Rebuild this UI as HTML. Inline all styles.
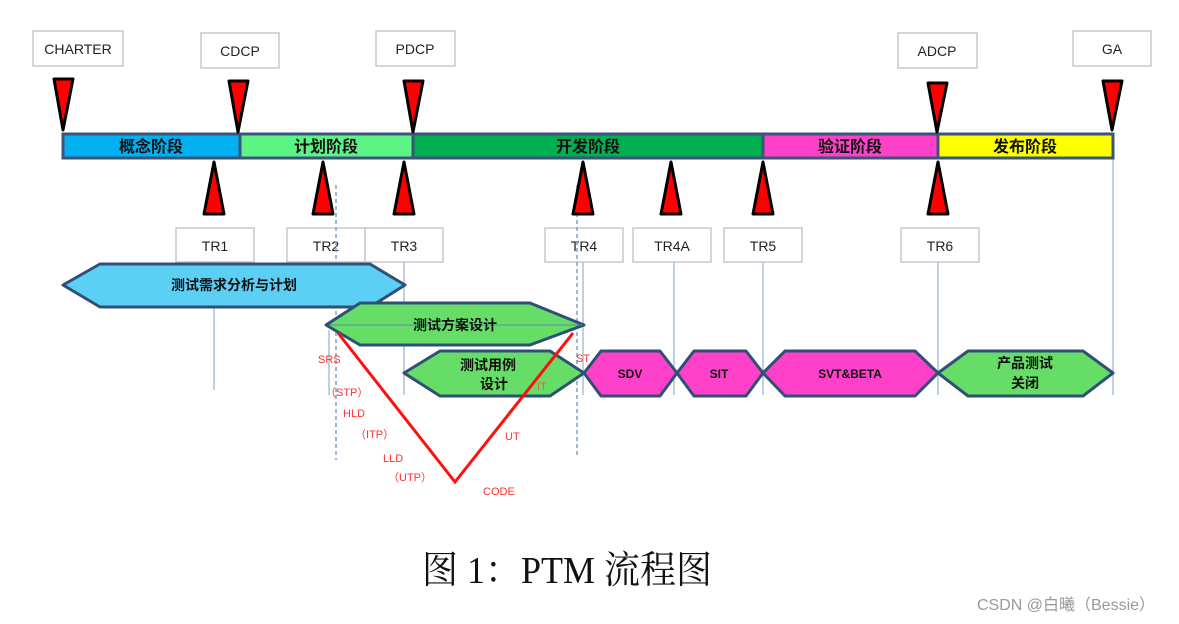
<!DOCTYPE html>
<html><head><meta charset="utf-8"><style>
html,body{margin:0;padding:0;background:#fff;width:1179px;height:624px;overflow:hidden}
text{font-family:"Liberation Sans","Noto Sans CJK SC",sans-serif}
</style></head><body>
<svg width="1179" height="624" xmlns="http://www.w3.org/2000/svg">
<g fill="#fff" stroke="#c8c8c8" stroke-width="1.5">
<rect x="33" y="31" width="90" height="35"/><rect x="201" y="33" width="78" height="35"/>
<rect x="376" y="31" width="79" height="35"/><rect x="898" y="33" width="79" height="35"/>
<rect x="1073" y="31" width="78" height="35"/>
<rect x="176" y="228" width="78" height="34"/><rect x="287" y="228" width="78" height="34"/>
<rect x="365" y="228" width="78" height="34"/><rect x="545" y="228" width="78" height="34"/>
<rect x="633" y="228" width="78" height="34"/><rect x="724" y="228" width="78" height="34"/>
<rect x="901" y="228" width="78" height="34"/>
</g>
<g font-size="14" fill="#222" text-anchor="middle">
<text x="78" y="54">CHARTER</text><text x="240" y="56">CDCP</text><text x="415" y="54">PDCP</text>
<text x="937" y="56">ADCP</text><text x="1112" y="54">GA</text>
<text x="215" y="251">TR1</text><text x="326" y="251">TR2</text><text x="404" y="251">TR3</text>
<text x="584" y="251">TR4</text><text x="672" y="251">TR4A</text><text x="763" y="251">TR5</text>
<text x="940" y="251">TR6</text>
</g>
<g stroke="#a8c0dc" stroke-width="1.5">
<line x1="214" y1="262" x2="214" y2="390"/><line x1="404" y1="262" x2="404" y2="395"/>
<line x1="583" y1="262" x2="583" y2="395"/><line x1="674" y1="262" x2="674" y2="395"/>
<line x1="763" y1="262" x2="763" y2="395"/><line x1="938" y1="262" x2="938" y2="395"/>
<line x1="1113" y1="158" x2="1113" y2="395"/>
<line x1="329" y1="330" x2="329" y2="395"/>
</g>
<g stroke="#7fa0c8" stroke-width="1.5" stroke-dasharray="4,3">
<line x1="336" y1="185" x2="336" y2="460"/><line x1="577" y1="185" x2="577" y2="455"/>
</g>
<g stroke="#3a557a" stroke-width="3">
<rect x="63" y="134" width="177" height="24" fill="#00b0f0"/>
<rect x="240" y="134" width="173" height="24" fill="#5cf585"/>
<rect x="413" y="134" width="350" height="24" fill="#00b050"/>
<rect x="763" y="134" width="175" height="24" fill="#ff40c8"/>
<rect x="938" y="134" width="175" height="24" fill="#ffff00"/>
</g>
<g font-size="16" font-weight="bold" fill="#111" text-anchor="middle">
<text x="151" y="152">概念阶段</text><text x="326" y="152">计划阶段</text>
<text x="588" y="152">开发阶段</text><text x="850" y="152">验证阶段</text><text x="1025" y="152">发布阶段</text>
</g>
<g fill="#ff0000" stroke="#000" stroke-width="3" stroke-linejoin="round">
<polygon points="54,79 73,79 63,130"/><polygon points="229,81 248,81 238,132"/>
<polygon points="404,81 423,81 413,132"/><polygon points="928,83 947,83 937,132"/>
<polygon points="1103,81 1122,81 1112,130"/>
<polygon points="214,162 204,214 224,214"/><polygon points="323,162 313,214 333,214"/>
<polygon points="404,162 394,214 414,214"/><polygon points="583,162 573,214 593,214"/>
<polygon points="671,162 661,214 681,214"/><polygon points="763,162 753,214 773,214"/>
<polygon points="938,162 928,214 948,214"/>
</g>
<g stroke="#2f5075" stroke-width="3" stroke-linejoin="round">
<polygon points="63,285 100,264 370,264 405,285 370,307 100,307" fill="#5ccff5"/>
<polygon points="326,325 360,303 530,303 584,325 530,345 360,345" fill="#66dd66"/>
<polygon points="404,373 440,351 550,351 584,373 550,396 440,396" fill="#66dd66"/>
<polygon points="584,373 601,351 660,351 677,373 660,396 601,396" fill="#ff40c8"/>
<polygon points="677,373 694,351 746,351 763,373 746,396 694,396" fill="#ff40c8"/>
<polygon points="763,373 785,351 915,351 938,373 915,396 785,396" fill="#ff40c8"/>
<polygon points="938,373 968,351 1083,351 1113,373 1083,396 968,396" fill="#66dd66"/>
</g>
<line x1="329" y1="325" x2="582" y2="325" stroke="#5a8aa8" stroke-width="1"/>
<g font-size="14" font-weight="bold" fill="#111" text-anchor="middle">
<text x="234" y="290">测试需求分析与计划</text>
<text x="455" y="330">测试方案设计</text>
<text x="488" y="370">测试用例</text><text x="494" y="389">设计</text>
<text x="630" y="378" font-size="12">SDV</text><text x="719" y="378" font-size="12">SIT</text>
<text x="850" y="378" font-size="12">SVT&amp;BETA</text>
<text x="1025" y="368">产品测试</text><text x="1025" y="388">关闭</text>
</g>
<polyline points="338,333 455,482 573,333" fill="none" stroke="#ff1010" stroke-width="3"/>
<g font-size="11" fill="#ff3030">
<text x="318" y="363">SRS</text><text x="325" y="396">（STP）</text>
<text x="343" y="417">HLD</text><text x="355" y="438">（ITP）</text>
<text x="383" y="462">LLD</text><text x="388" y="481">（UTP）</text>
<text x="483" y="495">CODE</text><text x="505" y="440">UT</text>
<text x="537" y="390" fill="#d07030">IT</text><text x="576" y="362">ST</text>
</g>
<text x="567" y="583" font-size="38" text-anchor="middle" textLength="290" lengthAdjust="spacingAndGlyphs" style='font-family:"Liberation Serif","Noto Serif CJK SC",serif' fill="#111">图 1：PTM 流程图</text>
<text x="1066" y="610" font-size="16" text-anchor="middle" fill="#999">CSDN @白曦（Bessie）</text>
</svg>
</body></html>
